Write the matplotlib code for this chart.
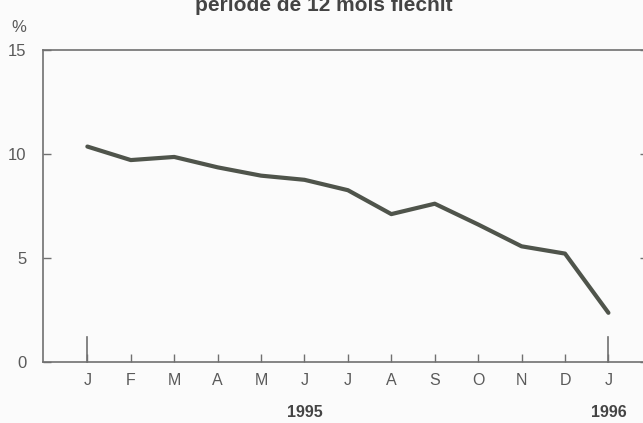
import matplotlib.pyplot as plt

plt.rcParams['font.family'] = ['Liberation Sans', 'DejaVu Sans']

# 12-month rate, Jan 1995 - Jan 1996
months = ['J', 'F', 'M', 'A', 'M', 'J', 'J', 'A', 'S', 'O', 'N', 'D', 'J']
rate = [10.35, 9.7, 9.85, 9.35, 8.95, 8.75, 8.25, 7.1, 7.6, 6.6, 5.55, 5.2, 2.35]
years = ['1995', '1996']

grey = '#5a5a5a'
fig = plt.figure(figsize=(6.43, 4.23), dpi=100, facecolor='#fbfbfb')
ax = fig.add_axes([0.067, 0.145, 0.94, 0.737])
ax.set_facecolor('#fbfbfb')

x = list(range(len(months)))
ax.plot(x, rate, color='#4f544b', linewidth=3.0, solid_capstyle='round', solid_joinstyle='round')

ax.set_xlim(-1.02, 12.9)
ax.set_ylim(0, 15)

for s in ['left', 'top', 'bottom']:
    ax.spines[s].set_color('#707070')
    ax.spines[s].set_linewidth(1.2)
ax.spines['right'].set_visible(False)

ax.set_yticks([0, 5, 10, 15])
ax.set_yticklabels(['0', '5', '10', '15'], fontsize=12, color=grey)
ax.tick_params(axis='y', direction='in', length=6, width=1, color='#707070',
               right=True, pad=12)

ax.set_xticks(x)
ax.set_xticklabels(months, fontsize=11.5, color=grey)
ax.tick_params(axis='x', direction='in', length=6, width=1, color='#707070', pad=8)
# longer ticks for January
for i in [0, 12]:
    ax.plot([i, i], [0, 1.2], color='#707070', linewidth=1.2, clip_on=False)

ax.text(5, -0.163, years[0], transform=ax.get_xaxis_transform(), ha='center', va='center',
        fontsize=11.5, fontweight='bold', color='#444444')
ax.text(12, -0.163, years[1], transform=ax.get_xaxis_transform(), ha='center', va='center',
        fontsize=11.5, fontweight='bold', color='#444444')

fig.text(0.018, 0.935, '%', fontsize=12, color=grey, ha='left', va='center')
fig.text(0.503, 0.988, 'période de 12 mois fléchit', fontsize=15, fontweight='bold',
         color='#444444', ha='center', va='center')

fig.savefig('out.png', dpi=100, facecolor=fig.get_facecolor())
